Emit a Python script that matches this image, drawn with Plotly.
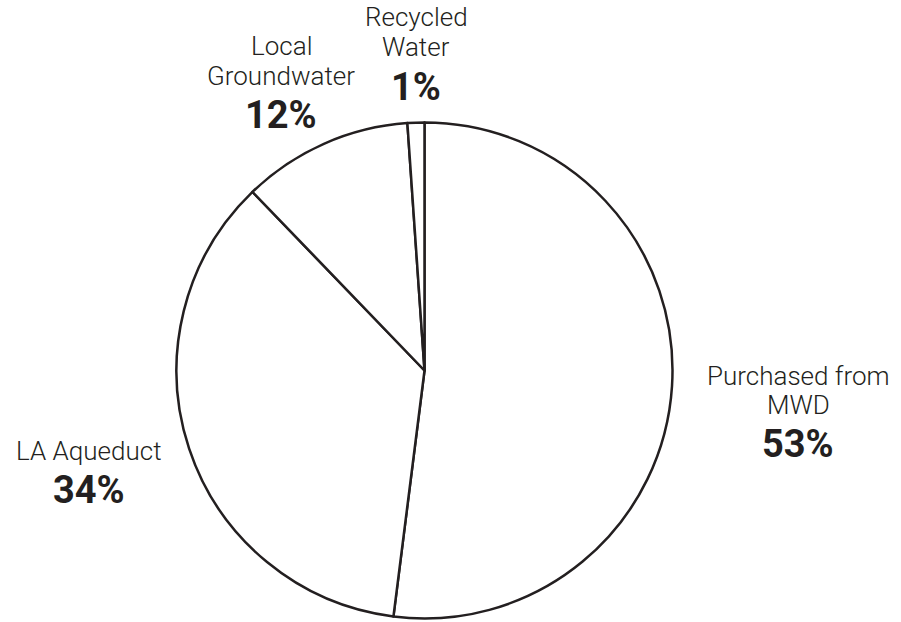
import plotly.graph_objects as go

W, H = 901, 622

# data
sources = ["Purchased from MWD", "LA Aqueduct", "Local Groundwater", "Recycled Water"]
shares = [52.0, 35.8, 11.1, 1.1]          # slice sizes as drawn
pct_labels = ["53%", "34%", "12%", "1%"]  # printed percentages
name_lines = [["Purchased from", "MWD"], ["LA Aqueduct"], ["Local", "Groundwater"], ["Recycled", "Water"]]

INK = "#231f20"
FONT = "Roboto"
NAME_SIZE = 26
PCT_SIZE = 38

cx, cy, R = 424.5, 370.5, 248.0

fig = go.Figure(go.Pie(
    labels=sources,
    values=shares,
    sort=False,
    direction="clockwise",
    rotation=0,
    textinfo="none",
    hoverinfo="label+percent",
    marker=dict(colors=["white"] * 4, line=dict(color=INK, width=2.5)),
    showlegend=False,
    domain=dict(x=[(cx - R) / W, (cx + R) / W], y=[(H - cy - R) / H, (H - cy + R) / H]),
))

# label layout (pixel centre x, baseline of name lines, baseline of percent)
label_pos = [
    (798, [385, 414], 457),
    (89, [460], 503),
    (281, [55, 85], 128),
    (416, [26, 56], 100),
]

anns = []
for (x, name_bases, pct_base), lines, pct in zip(label_pos, name_lines, pct_labels):
    for line, b in zip(lines, name_bases):
        anns.append(dict(x=x / W, y=1 - (b - 0.355 * NAME_SIZE) / H, xref="paper", yref="paper",
                         text=line, showarrow=False, xanchor="center", yanchor="middle",
                         height=28, borderpad=0,
                         font=dict(family=FONT, size=NAME_SIZE, color=INK, weight=300)))
    anns.append(dict(x=x / W, y=1 - (pct_base - 0.345 * PCT_SIZE) / H, xref="paper", yref="paper",
                     text="<b>" + pct + "</b>", showarrow=False, xanchor="center", yanchor="middle",
                     height=32, borderpad=0,
                     font=dict(family=FONT, size=PCT_SIZE, color=INK)))

fig.update_layout(
    width=W, height=H,
    margin=dict(l=0, r=0, t=0, b=0),
    paper_bgcolor="white", plot_bgcolor="white",
    annotations=anns,
)

fig.write_html("out.html")
